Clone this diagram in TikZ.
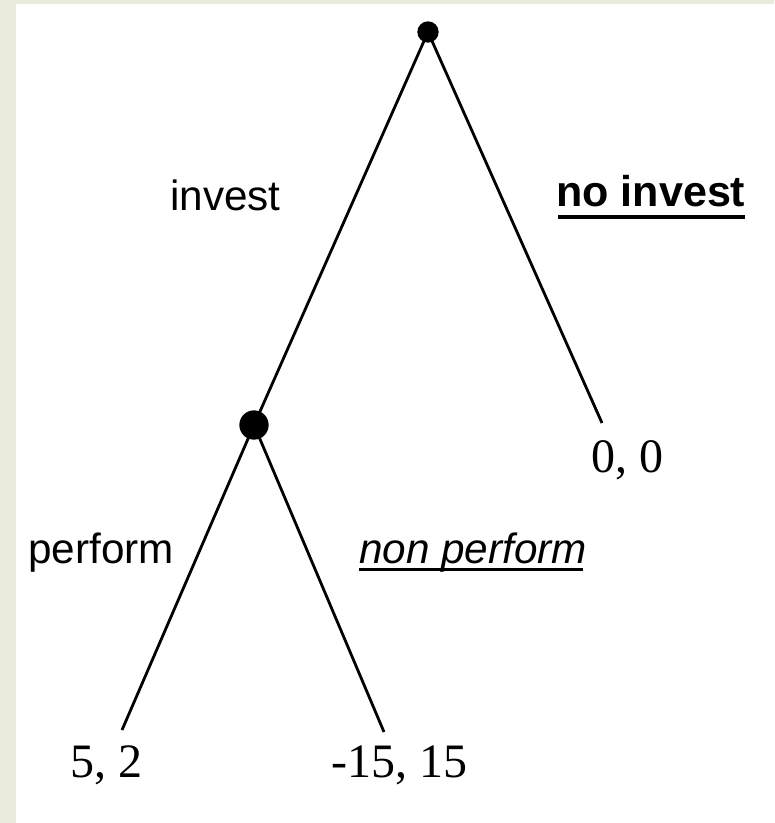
\documentclass[tikz,border=0pt]{standalone}
\usepackage{fontspec}
\setmainfont{Liberation Serif}
\setsansfont{Liberation Sans}
\definecolor{frame}{RGB}{233,233,220}
\begin{document}
\begin{tikzpicture}[x=0.75pt,y=-0.75pt,
  edge/.style={line width=2.1pt,black},
  dot/.style={circle,fill=black,inner sep=0pt},
  lbl/.style={inner sep=0pt,anchor=base west,font=\sffamily\fontsize{31.7}{36}\selectfont},
  pay/.style={inner sep=0pt,anchor=base west,font=\fontsize{36}{40}\selectfont},
  uline/.style={fill=black}]
\useasboundingbox (0,0) rectangle (774,823);
\fill[white] (0,0) rectangle (774,823);
\fill[frame] (0,0) rectangle (16,823);
\fill[frame] (0,0) rectangle (774,4);
% tree
\node[dot,minimum size=16pt] (root) at (428,32) {};
\node[dot,minimum size=22pt] (mid) at (254,425) {};
\coordinate (noinv) at (602,423);
\coordinate (perf) at (122,730);
\coordinate (nperf) at (384,732);
\draw[edge] (root.center) -- (mid.center);
\draw[edge] (root.center) -- (noinv);
\draw[edge] (mid.center) -- (perf);
\draw[edge] (mid.center) -- (nperf);
% labels
\node[lbl] (linv) at (170,211) {invest};
\node[lbl,font=\sffamily\bfseries\fontsize{32.3}{36}\selectfont] (lnoinv) at (556,207) {no invest};
\node[lbl] (lperf) at (28,563) {perform};
\node[lbl,font=\sffamily\itshape\fontsize{31.7}{36}\selectfont] (lnperf) at (359,563) {non perform};
\fill[uline] (558,215) rectangle (745,219);
\fill[uline] (359,568) rectangle (583,571);
% payoffs
\node[pay] (p00) at (591,472) {0, 0};
\node[pay] (p52) at (70,777) {5, 2};
\node[pay] (p1515) at (331,777) {-15, 15};
\end{tikzpicture}
\end{document}
